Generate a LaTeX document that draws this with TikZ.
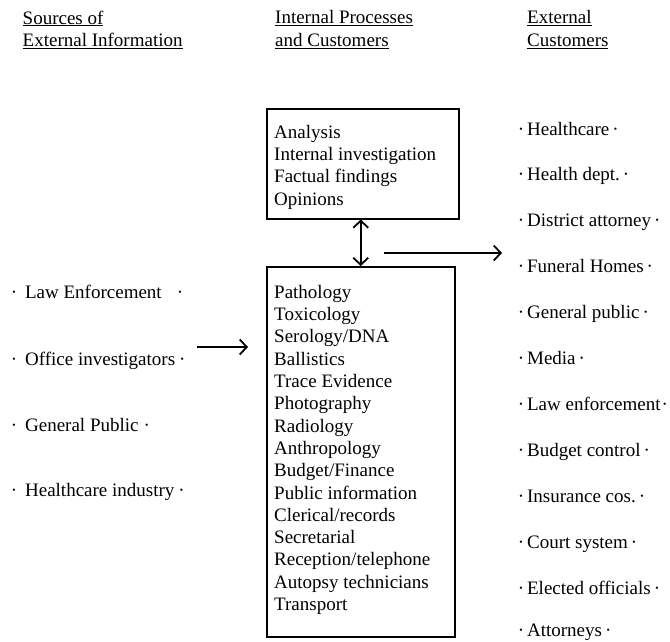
\documentclass[tikz,border=0pt]{standalone}
\usepackage{fontspec}
\setmainfont{Liberation Serif}
\usetikzlibrary{arrows.meta}
\begin{document}
\begin{tikzpicture}[x=1pt,y=-1pt,
  txt/.style={font=\fontsize{19}{22.3}\selectfont, inner sep=0pt, anchor=base west},
  lines/.style={font=\fontsize{19}{22.3}\selectfont, inner sep=0pt, anchor=north west, align=left},
  frame/.style={draw, line width=1.5pt, inner sep=0pt, anchor=north west},
  flow/.style={line width=1.8pt, -{Straight Barb[length=7pt,width=15pt]}},
  both/.style={line width=1.8pt, {Straight Barb[length=7pt,width=15pt]}-{Straight Barb[length=7pt,width=15pt]}},
]
\useasboundingbox (0,0) rectangle (670,641);

% column headings
\node[lines, font=\fontsize{19}{22.5}\selectfont] (hdrA) at (22.5,10.5)
  {\underline{Sources of}\\\underline{External Information}};
\node[lines, font=\fontsize{19}{22.5}\selectfont] (hdrB) at (275,10.5)
  {\underline{Internal Processes}\\\underline{and Customers}};
\node[lines, font=\fontsize{19}{22.5}\selectfont] (hdrC) at (527,10.5)
  {\underline{External}\\\underline{Customers}};

% internal processes
\node[frame, minimum width=192pt, minimum height=110pt] (topbox) at (266,108) {};
\node[lines] (toplist) at (274,125)
  {Analysis\\Internal investigation\\Factual findings\\Opinions};

\node[frame, minimum width=188pt, minimum height=370pt] (botbox) at (266,266) {};
\node[lines] (botlist) at (274,285)
  {Pathology\\Toxicology\\Serology/DNA\\Ballistics\\Trace Evidence\\Photography\\
   Radiology\\Anthropology\\Budget/Finance\\Public information\\Clerical/records\\
   Secretarial\\Reception/telephone\\Autopsy technicians\\Transport};

% sources of external information
\node[txt] (src1) at (10.6,298) {·\hspace{8pt}Law Enforcement\hspace{15pt}·};
\node[txt] (src2) at (10.6,365) {·\hspace{8pt}Office investigators\hspace{4pt}·};
\node[txt] (src3) at (10.6,431) {·\hspace{8pt}General Public\hspace{5pt}·};
\node[txt] (src4) at (10.6,496) {·\hspace{8pt}Healthcare industry\hspace{4pt}·};

% external customers
\node[txt] (cust1)  at (517.6,135.0) {·\kern3pt Healthcare\kern3pt·};
\node[txt] (cust2)  at (517.6,180.9) {·\kern3pt Health dept.\kern3pt·};
\node[txt] (cust3)  at (517.6,226.8) {·\kern3pt District attorney\kern3pt·};
\node[txt] (cust4)  at (517.6,272.7) {·\kern3pt Funeral Homes\kern3pt·};
\node[txt] (cust5)  at (517.6,318.6) {·\kern3pt General public\kern3pt·};
\node[txt] (cust6)  at (517.6,364.5) {·\kern3pt Media\kern3pt·};
\node[txt] (cust7)  at (517.6,410.4) {·\kern3pt Law enforcement\kern1pt·};
\node[txt] (cust8)  at (517.6,456.3) {·\kern3pt Budget control\kern3pt·};
\node[txt] (cust9)  at (517.6,502.2) {·\kern3pt Insurance cos.\kern3pt·};
\node[txt] (cust10) at (517.6,548.1) {·\kern3pt Court system\kern3pt·};
\node[txt] (cust11) at (517.6,594.0) {·\kern3pt Elected officials\kern3pt·};
\node[txt] (cust12) at (517.6,636.0) {·\kern3pt Attorneys\kern3pt·};

% flow arrows
\coordinate (inStart) at (197,347);
\coordinate (inEnd) at (248,347);
\coordinate (outStart) at (384,253);
\coordinate (outEnd) at (502,253);
\draw[flow] (inStart) -- (inEnd);
\draw[flow] (outStart) -- (outEnd);
\draw[both] (topbox.south -| botbox.north) -- (botbox.north);
\end{tikzpicture}
\end{document}
